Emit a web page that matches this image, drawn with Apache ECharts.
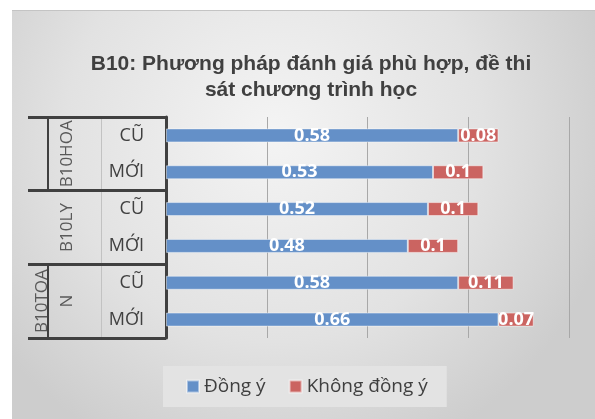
<!DOCTYPE html>
<html>
<head>
<meta charset="utf-8">
<script src="https://cdn.jsdelivr.net/npm/echarts@6/dist/echarts.min.js"></script>
<style>
  html, body { margin: 0; padding: 0; background: #ffffff; }
  #chart {
    position: absolute; left: 12px; top: 10px;
    width: 583px; height: 409px;
    border-top: 1px solid #c4c4c4;
    box-sizing: border-box;
  }
</style>
</head>
<body>
<div id="chart"></div>
<script>
// Sub-level categories (top to bottom) and their parent groups
const subjects = ['B10HOA', 'B10LY', 'B10TOA\nN'];
const rows = ['CŨ', 'MỚI', 'CŨ', 'MỚI', 'CŨ', 'MỚI'];

// Shares of answers per row
const agree = [0.58, 0.53, 0.52, 0.48, 0.58, 0.66];
const disagree = [0.08, 0.1, 0.1, 0.1, 0.11, 0.07];

// Value axis ticks
const axisMin = 0;
const axisMax = 0.8;
const axisStep = 0.2;

// Groups whose outer edge is drawn on the left of the label box
const framedSubjects = [0, 2];

const chart = echarts.init(document.getElementById('chart'), null, { renderer: 'canvas' });

const dark = '#404040';
const labelFont = 'Open Sans';

const option = {
  animation: false,
  backgroundColor: {
    type: 'radial', x: 0.45, y: 0.3, r: 0.85,
    colorStops: [
      { offset: 0, color: '#f4f4f4' },
      { offset: 0.6, color: '#e2e2e2' },
      { offset: 1, color: '#cdcdcd' }
    ]
  },
  title: {
    text: 'B10: Phương pháp đánh giá phù hợp, đề thi\nsát chương trình học',
    left: 294,
    textAlign: 'center',
    top: 35,
    textStyle: {
      fontFamily: 'Liberation Sans',
      fontWeight: 'bold',
      fontSize: 21,
      lineHeight: 26,
      color: dark
    }
  },
  legend: {
    data: ['Đồng ý', 'Không đồng ý'],
    left: 151,
    top: 355,
    padding: [11, 19, 11, 23],
    backgroundColor: '#e3e3e3',
    itemWidth: 12,
    itemHeight: 12,
    itemGap: 23,
    icon: 'rect',
    textStyle: { fontFamily: labelFont, fontSize: 19, color: dark }
  },
  grid: { left: 154, right: 26, top: 106, height: 221, containLabel: false },
  xAxis: {
    type: 'value',
    min: axisMin, max: axisMax, interval: axisStep,
    axisLabel: { show: false },
    axisTick: { show: false },
    axisLine: { show: false },
    splitLine: { lineStyle: { color: '#a8a8a8', width: 1 } }
  },
  yAxis: [
    {
      type: 'category',
      inverse: true,
      data: rows,
      axisLine: { show: true, lineStyle: { color: dark, width: 3 } },
      axisTick: { show: false },
      axisLabel: { interval: 0, margin: 22, fontFamily: labelFont, fontSize: 18, color: dark }
    },
    {
      type: 'category',
      inverse: true,
      data: subjects,
      position: 'left',
      axisLine: { show: false },
      axisTick: { show: true, interval: 0, length: 138, lineStyle: { color: dark, width: 3 } },
      axisLabel: {
        interval: 0, rotate: 90, margin: 86,
        fontFamily: labelFont, fontSize: 17, lineHeight: 25, color: '#595959'
      }
    },
    {
      type: 'category',
      inverse: true,
      data: subjects,
      position: 'left',
      offset: 65,
      axisLine: { show: true, lineStyle: { color: '#c2c2c2', width: 1 } },
      axisTick: { show: false },
      axisLabel: { show: false }
    }
  ],
  series: [
    {
      name: 'Đồng ý',
      type: 'bar',
      stack: 'total',
      barWidth: 14,
      data: agree,
      itemStyle: { color: '#6490c8', borderColor: 'rgba(255,255,255,0.45)', borderWidth: 1 },
      label: {
        show: true, position: 'inside', color: '#ffffff',
        fontFamily: labelFont, fontWeight: 'bold', fontSize: 18
      }
    },
    {
      name: 'Không đồng ý',
      type: 'bar',
      stack: 'total',
      barWidth: 14,
      data: disagree,
      itemStyle: { color: '#cb6461', borderColor: 'rgba(255,255,255,0.5)', borderWidth: 1 },
      label: {
        show: true, position: 'inside', color: '#ffffff',
        fontFamily: labelFont, fontWeight: 'bold', fontSize: 18
      }
    },
    {
      // left edge of the group label box, drawn per framed group
      type: 'custom',
      yAxisIndex: 1,
      silent: true,
      z: 5,
      data: framedSubjects.map(i => [axisMin, i]),
      encode: { x: 0, y: 1 },
      renderItem: function (params, api) {
        const p = api.coord([api.value(0), api.value(1)]);
        const h = api.size([0, 1])[1];
        const x = p[0] - 118;
        return {
          type: 'line',
          shape: { x1: x, y1: p[1] - h / 2, x2: x, y2: p[1] + h / 2 },
          style: { stroke: dark, lineWidth: 2 }
        };
      }
    }
  ]
};

chart.setOption(option);
</script>
</body>
</html>
